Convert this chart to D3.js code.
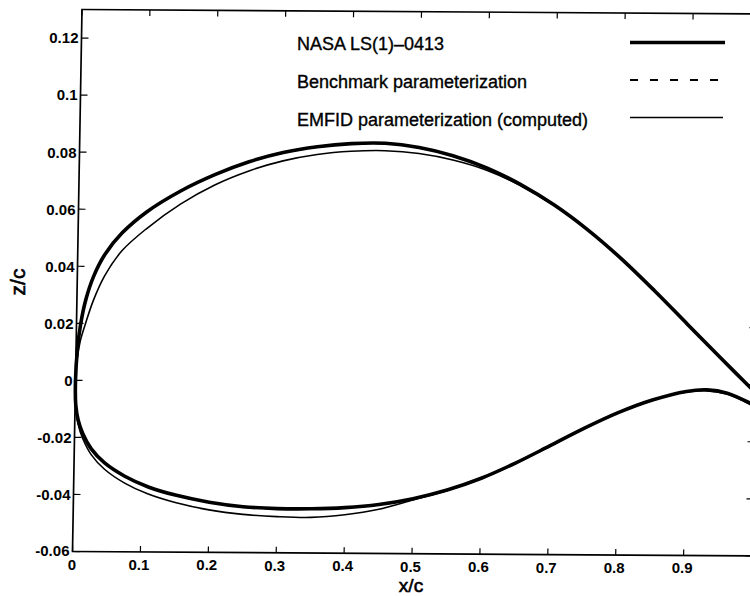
<!DOCTYPE html>
<html>
<head>
<meta charset="utf-8">
<script src="https://cdn.jsdelivr.net/npm/d3@7"></script>
<style>
  html, body { margin: 0; padding: 0; background: #fff; }
  svg { display: block; font-family: "Liberation Sans", Arial, sans-serif; }
</style>
</head>
<body>
<svg id="chart" width="750" height="596"></svg>
<script>
// ---- data ----
const xTicks = [0, 0.1, 0.2, 0.3, 0.4, 0.5, 0.6, 0.7, 0.8, 0.9, 1.0];
const xTickLabels = ["0", "0.1", "0.2", "0.3", "0.4", "0.5", "0.6", "0.7", "0.8", "0.9", ""];
const yTicks = [-0.06, -0.04, -0.02, 0, 0.02, 0.04, 0.06, 0.08, 0.1, 0.12];
const yTickLabels = ["-0.06", "-0.04", "-0.02", "0", "0.02", "0.04", "0.06", "0.08", "0.1", "0.12"];
const seriesNames = ["NASA LS(1)\u20130413", "Benchmark parameterization", "EMFID parameterization (computed)"];

// NASA LS(1)-0413
const nasaUpperX = [0, 0.002, 0.006, 0.013, 0.024, 0.04, 0.065, 0.1, 0.15, 0.2, 0.25, 0.3, 0.35, 0.4, 0.45, 0.5, 0.55, 0.6, 0.65, 0.7, 0.75, 0.8, 0.85, 0.9, 0.95, 1.0];
const nasaUpperZ = [0, 0.0108, 0.0195, 0.0282, 0.0365, 0.0442, 0.0518, 0.0591, 0.0666, 0.0724, 0.0770, 0.0803, 0.0824, 0.0836, 0.0838, 0.0824, 0.0796, 0.0754, 0.0697, 0.0626, 0.0540, 0.0440, 0.0328, 0.0210, 0.0092, -0.0024];
const nasaLowerX = [0, 0.001, 0.005, 0.012, 0.025, 0.045, 0.075, 0.11, 0.15, 0.2, 0.25, 0.3, 0.35, 0.4, 0.45, 0.5, 0.55, 0.6, 0.65, 0.7, 0.75, 0.8, 0.85, 0.9, 0.93, 0.96, 1.0];
const nasaLowerZ = [0, -0.0085, -0.0140, -0.0186, -0.0240, -0.0289, -0.0335, -0.0372, -0.0400, -0.0424, -0.0439, -0.0445, -0.0445, -0.0440, -0.0428, -0.0407, -0.0376, -0.0334, -0.0280, -0.0219, -0.0157, -0.0101, -0.0056, -0.0025, -0.0019, -0.0030, -0.0072];

// Benchmark parameterization (coincides with the NASA contour)
const benchUpperX = [0, 0.002, 0.006, 0.013, 0.024, 0.04, 0.065, 0.1, 0.15, 0.2, 0.25, 0.3, 0.35, 0.4, 0.45, 0.5, 0.55, 0.6, 0.65, 0.7, 0.75, 0.8, 0.85, 0.9, 0.95, 1.0];
const benchUpperZ = [0, 0.0107, 0.0194, 0.0281, 0.0364, 0.0441, 0.0517, 0.059, 0.0665, 0.0723, 0.0769, 0.0802, 0.0823, 0.0835, 0.0837, 0.0823, 0.0795, 0.0753, 0.0696, 0.0625, 0.0539, 0.0439, 0.0327, 0.0209, 0.0091, -0.0025];
const benchLowerX = [0, 0.001, 0.005, 0.012, 0.025, 0.045, 0.075, 0.11, 0.15, 0.2, 0.25, 0.3, 0.35, 0.4, 0.45, 0.5, 0.55, 0.6, 0.65, 0.7, 0.75, 0.8, 0.85, 0.9, 0.93, 0.96, 1.0];
const benchLowerZ = [0, -0.0086, -0.0141, -0.0187, -0.0241, -0.029, -0.0336, -0.0373, -0.0401, -0.0425, -0.044, -0.0446, -0.0446, -0.0441, -0.0429, -0.0408, -0.0377, -0.0335, -0.0281, -0.022, -0.0158, -0.0102, -0.0057, -0.0026, -0.002, -0.0031, -0.0073];

// EMFID parameterization (computed)
const emfidUpperX = [0, 0.002, 0.006, 0.013, 0.024, 0.04, 0.065, 0.1, 0.15, 0.2, 0.25, 0.3, 0.35, 0.4, 0.45, 0.5, 0.55, 0.6, 0.65, 0.7, 0.75, 0.8, 0.85, 0.9, 0.95, 1.0];
const emfidUpperZ = [0, 0.0078, 0.0138, 0.0197, 0.0279, 0.0366, 0.0455, 0.0532, 0.0620, 0.0688, 0.0738, 0.0774, 0.0797, 0.0809, 0.0812, 0.0803, 0.0781, 0.0746, 0.0693, 0.0624, 0.0539, 0.0440, 0.0328, 0.0210, 0.0092, -0.0024];
const emfidLowerX = [0, 0.001, 0.005, 0.012, 0.025, 0.045, 0.075, 0.11, 0.15, 0.2, 0.25, 0.3, 0.35, 0.4, 0.45, 0.5, 0.55, 0.6, 0.65, 0.7, 0.75, 0.8, 0.85, 0.9, 0.93, 0.96, 1.0];
const emfidLowerZ = [0, -0.0090, -0.0153, -0.0203, -0.0260, -0.0311, -0.0359, -0.0397, -0.0426, -0.0451, -0.0466, -0.0473, -0.0475, -0.0465, -0.0445, -0.0412, -0.0378, -0.0333, -0.0279, -0.0218, -0.0156, -0.0100, -0.0056, -0.0027, -0.0022, -0.0034, -0.0076];

// ---- layout ----
const W = 679, H = 542;               // plot box in local units
const ox = 82, oy = 9.5;              // screen position of top-left corner
const kb = 0.00648, kc = -0.01753;    // slight scan skew
const P = (u, v) => [ox + u + kc * v, oy + kb * u + v];

const svg = d3.select("#chart");
const x = d3.scaleLinear().domain([0, 1]).range([0, W]);
const y = d3.scaleLinear().domain([-0.06, 0.13]).range([H, 0]);

const g = svg.append("g").attr("transform", `matrix(1,${kb},${kc},1,${ox},${oy})`);

// frame
g.append("rect").attr("x", 0).attr("y", 0).attr("width", W).attr("height", H)
  .attr("fill", "none").attr("stroke", "#000").attr("stroke-width", 1.7);

// ticks (inward)
const tl = 6;
xTicks.forEach(t => {
  g.append("line").attr("x1", x(t)).attr("x2", x(t)).attr("y1", H).attr("y2", H - tl)
    .attr("stroke", "#000").attr("stroke-width", 1.2);
  g.append("line").attr("x1", x(t)).attr("x2", x(t)).attr("y1", 0).attr("y2", tl)
    .attr("stroke", "#000").attr("stroke-width", 1.2);
});
yTicks.forEach(t => {
  g.append("line").attr("x1", 0).attr("x2", tl + 1).attr("y1", y(t)).attr("y2", y(t))
    .attr("stroke", "#000").attr("stroke-width", 1.2);
  g.append("line").attr("x1", W).attr("x2", W - tl).attr("y1", y(t)).attr("y2", y(t))
    .attr("stroke", "#000").attr("stroke-width", 1.2);
});

// contours
function contour(ux, uz, lx, lz) {
  const pts = [];
  for (let i = ux.length - 1; i >= 0; i--) pts.push([ux[i], uz[i]]);
  for (let i = 1; i < lx.length; i++) pts.push([lx[i], lz[i]]);
  return pts;
}
const line = d3.line().x(d => x(d[0])).y(d => y(d[1])).curve(d3.curveCatmullRom.alpha(0.5));

g.append("path").attr("d", line(contour(nasaUpperX, nasaUpperZ, nasaLowerX, nasaLowerZ)))
  .attr("fill", "none").attr("stroke", "#000").attr("stroke-width", 3.6).attr("stroke-linejoin", "round");
g.append("path").attr("d", line(contour(benchUpperX, benchUpperZ, benchLowerX, benchLowerZ)))
  .attr("fill", "none").attr("stroke", "#000").attr("stroke-width", 1.8).attr("stroke-dasharray", "8,12");
g.append("path").attr("d", line(contour(emfidUpperX, emfidUpperZ, emfidLowerX, emfidLowerZ)))
  .attr("fill", "none").attr("stroke", "#000").attr("stroke-width", 1.6);

// tick labels (upright text at skewed positions)
const lab = svg.append("g").attr("fill", "#000").attr("font-size", 15).attr("font-weight", "bold");
xTicks.forEach((t, i) => {
  if (!xTickLabels[i]) return;
  const [X, Y] = P(x(t), H);
  lab.append("text").attr("x", X - 1.5 + (i === 0 ? 1 : 0)).attr("y", Y + 18).attr("text-anchor", "middle").text(xTickLabels[i]);
});
yTicks.forEach((t, i) => {
  const [X, Y] = P(0, y(t));
  lab.append("text").attr("x", X - 3).attr("y", Y - (i === 0 ? 1 : 0)).attr("dy", "0.36em").attr("text-anchor", "end").text(yTickLabels[i]);
});

// axis titles
svg.append("text").attr("x", 411).attr("y", 592).attr("text-anchor", "middle")
  .attr("font-size", 19).attr("stroke", "#000").attr("stroke-width", 0.6).text("x/c");
svg.append("text").attr("transform", "translate(25,282) rotate(-90)").attr("text-anchor", "middle")
  .attr("font-size", 21).attr("stroke", "#000").attr("stroke-width", 0.6).text("z/c");

// legend
const leg = svg.append("g").attr("font-size", 18).attr("stroke", "#000").attr("stroke-width", 0.35);
const rows = [
  { ty: 50, ly: 42.5, w: 3.6, dash: null, x2: 725 },
  { ty: 88, ly: 80, w: 1.8, dash: "8,12", x2: 722 },
  { ty: 126, ly: 117.5, w: 1.6, dash: null, x2: 723 }
];
rows.forEach((r, i) => {
  leg.append("text").attr("x", 297).attr("y", r.ty).text(seriesNames[i]);
  const l = leg.append("line").attr("x1", 630).attr("x2", r.x2).attr("y1", r.ly).attr("y2", r.ly)
    .attr("stroke", "#000").attr("stroke-width", r.w);
  if (r.dash) l.attr("stroke-dasharray", r.dash);
});
</script>
</body>
</html>
